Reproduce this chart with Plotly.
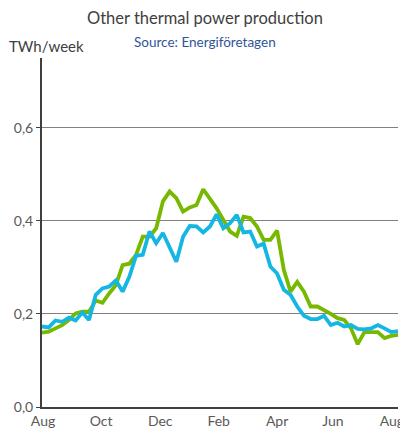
import plotly.graph_objects as go

# ------------------------------------------------------------------ Dados
semanas = list(range(54))

serie_verde = [0.160, 0.162, 0.169, 0.176, 0.187, 0.201, 0.205, 0.205, 0.229, 0.224,
               0.244, 0.262, 0.305, 0.308, 0.327, 0.366, 0.366, 0.384, 0.442, 0.463,
               0.449, 0.420, 0.429, 0.434, 0.468, 0.447, 0.427, 0.402, 0.377, 0.368,
               0.409, 0.406, 0.388, 0.359, 0.359, 0.379, 0.295, 0.248, 0.269, 0.248,
               0.216, 0.216, 0.209, 0.200, 0.191, 0.187, 0.169, 0.135, 0.161, 0.161,
               0.161, 0.148, 0.153, 0.155]

serie_azul = [0.173, 0.171, 0.186, 0.183, 0.192, 0.186, 0.203, 0.187, 0.241, 0.255,
              0.259, 0.272, 0.248, 0.280, 0.325, 0.327, 0.377, 0.352, 0.374, 0.345,
              0.312, 0.366, 0.389, 0.388, 0.375, 0.388, 0.414, 0.384, 0.395, 0.413,
              0.375, 0.377, 0.345, 0.351, 0.302, 0.287, 0.252, 0.241, 0.216, 0.196,
              0.189, 0.189, 0.196, 0.176, 0.181, 0.173, 0.176, 0.168, 0.167, 0.169,
              0.176, 0.169, 0.161, 0.163]

meses_pos = [0.15, 8.8, 17.6, 26.3, 35.0, 43.3, 52.1]
meses_txt = ["Aug", "Oct", "Dec", "Feb", "Apr", "Jun", "Aug"]

y_ticks = [0.0, 0.2, 0.4, 0.6]

fonte = "Lato, 'Open Sans', sans-serif"

# ------------------------------------------------------------------ Figura
fig = go.Figure()

fig.add_trace(go.Scatter(x=semanas, y=serie_verde, mode="lines",
                         line=dict(color="#76B900", width=3.8),
                         showlegend=False, hoverinfo="skip"))
fig.add_trace(go.Scatter(x=semanas, y=serie_azul, mode="lines",
                         line=dict(color="#14B6E3", width=3.8),
                         showlegend=False, hoverinfo="skip"))

# A página tem 8px de margem no body, por isso a figura é 8px menor
fig.update_layout(
    width=400, height=426,
    margin=dict(l=34, r=10, t=50, b=27),
    plot_bgcolor="white", paper_bgcolor="white",
    separators=", ",
    font=dict(family=fonte, color="#595959", size=14),
    xaxis=dict(
        range=[0, 53], tickvals=meses_pos, ticktext=meses_txt,
        showgrid=False, zeroline=False, automargin=False,
        showline=True, linecolor="#404040", linewidth=2,
        ticks="", tickfont=dict(size=14, color="#595959"),
    ),
    yaxis=dict(
        range=[0, 0.75], tickvals=y_ticks, tickformat=".1f",
        showgrid=True, gridcolor="#808080", gridwidth=1,
        zeroline=False, automargin=False,
        showline=True, linecolor="#404040", linewidth=2,
        ticks="outside", ticklen=4, tickcolor="#404040",
        tickfont=dict(size=14, color="#595959"),
    ),
    annotations=[
        dict(text="Other thermal power production", xref="paper", yref="paper",
             x=0.458, y=1.115, xanchor="center", yanchor="middle", showarrow=False,
             font=dict(size=16.5, color="#404040", family=fonte)),
        dict(text="Source: Energiföretagen", xref="paper", yref="paper",
             x=0.458, y=1.046, xanchor="center", yanchor="middle", showarrow=False,
             font=dict(size=13.5, color="#2F5597", family=fonte)),
        dict(text="TWh/week", xref="paper", yref="paper",
             x=-0.097, y=1.034, xanchor="left", yanchor="middle", showarrow=False,
             font=dict(size=15, color="#404040", family=fonte)),
    ],
)

fig.write_html("out.html")
